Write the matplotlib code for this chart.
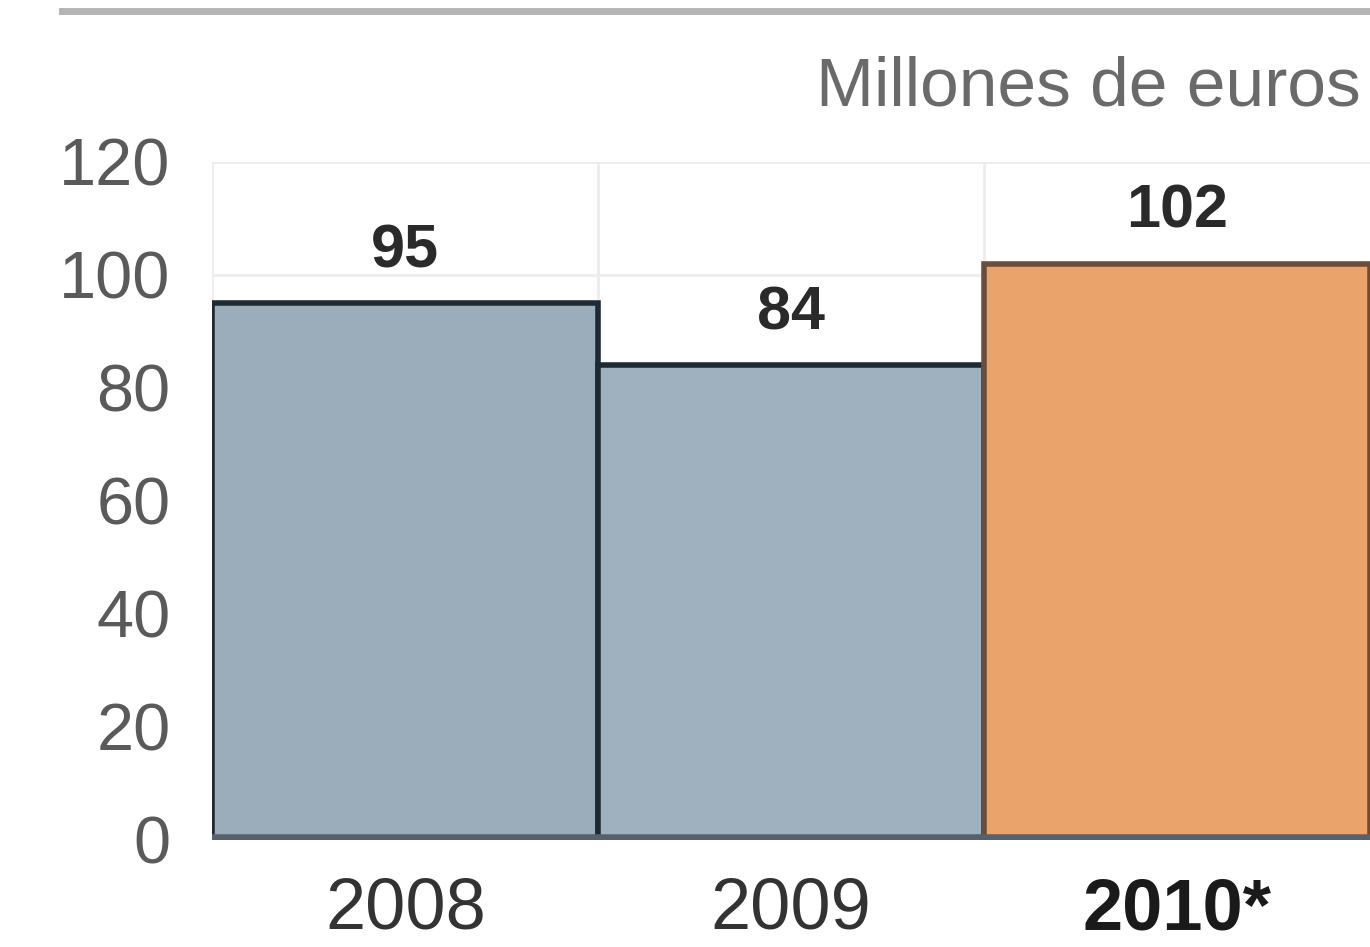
import matplotlib.pyplot as plt
from matplotlib.lines import Line2D

# Datos del gráfico
anios = ['2008', '2009', '2010*']
valores = [95, 84, 102]
colores = ['#9bacba', '#9fb0bf', '#eba36c']
bordes = ['#1d2a33', '#1d2a33', '#6b4d3a']
ticks_y = [0, 20, 40, 60, 80, 100, 120]

plt.rcParams['font.family'] = ['Liberation Sans Narrow', 'Liberation Sans', 'DejaVu Sans']

fig = plt.figure(figsize=(13.7, 9.47), dpi=100)
ax = fig.add_axes([0.155, 0.113, 0.845, 0.716])

# Cuadrícula tenue de fondo
ax.set_axisbelow(True)
ax.grid(True, axis='y', color='#ececec', linewidth=2)

x = range(len(anios))
barras = ax.bar(x, valores, width=1.0, color=colores, edgecolor=bordes, linewidth=4, zorder=2)

# Línea base oscura
ax.axhline(0, color='#56616b', linewidth=9, zorder=3)

# Etiquetas de valor
for i, v in enumerate(valores):
    ax.annotate(str(v), (i, v), xytext=(0, 37), textcoords='offset points',
                ha='center', va='center', fontsize=44, fontweight='bold', color='#2a2a2a')

ax.set_xlim(-0.5, 2.5)
ax.set_ylim(0, 120)
ax.set_yticks(ticks_y)
ax.set_yticklabels([str(t) for t in ticks_y], fontsize=48, color='#5a5a5a')
ax.set_xticks(list(x))
ax.set_xticklabels(anios, fontsize=52, color='#333333')
ax.get_xticklabels()[2].set_fontweight('bold')
ax.get_xticklabels()[2].set_color('#1a1a1a')
ax.tick_params(axis='both', which='both', length=0)
ax.tick_params(axis='y', pad=30)
ax.tick_params(axis='x', pad=26)
ax.set_xticks([-0.5, 0.5, 1.5], minor=True)
ax.grid(True, which='minor', axis='x', color='#ececec', linewidth=2)
for s in ax.spines.values():
    s.set_visible(False)

# Línea gris superior y unidad
fig.add_artist(Line2D([0.045, 1.0], [0.988, 0.988], color='#b4b4b4', linewidth=5))
fig.text(0.993, 0.908, 'Millones de euros', ha='right', va='center', fontsize=50, color='#6a6a6a')

fig.savefig('out.png', dpi=100)
